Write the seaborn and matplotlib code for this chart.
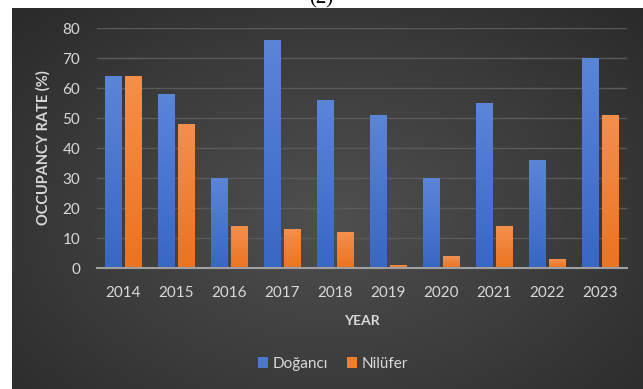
import numpy as np
import pandas as pd
import matplotlib
matplotlib.use("Agg")
import matplotlib.pyplot as plt
import seaborn as sns
from matplotlib.colors import LinearSegmentedColormap

years = ["2014", "2015", "2016", "2017", "2018", "2019", "2020", "2021", "2022", "2023"]
dogancı = [64, 58, 30, 76, 56, 51, 30, 55, 36, 70]
nilufer = [64, 48, 14, 13, 12, 1, 4, 14, 3, 51]
series_names = ["Doğancı", "Nilüfer"]

df = pd.DataFrame({
    "Year": years * 2,
    "Rate": dogancı + nilufer,
    "Site": [series_names[0]] * len(years) + [series_names[1]] * len(years),
})

sns.set_theme(style="dark")
plt.rcParams["font.family"] = ["Lato", "DejaVu Sans"]

W, H = 643, 389
fig = plt.figure(figsize=(W / 100, H / 100), dpi=100, facecolor="white")

# dark radial-gradient background panel
bg = fig.add_axes([12 / W, 0, (W - 12) / W, (H - 8) / H], zorder=-10)
gy, gx = np.mgrid[0:1:400j, 0:1:640j]
r = np.sqrt(((gx - 0.5) / 0.75) ** 2 + ((gy - 0.55) / 0.85) ** 2)
r = np.clip(r, 0, 1)
bg_cmap = LinearSegmentedColormap.from_list("bg", ["#4f4f4f", "#3c3c3c", "#272727"])
bg.imshow(r, cmap=bg_cmap, aspect="auto", extent=[0, 1, 0, 1], vmin=0, vmax=1)
bg.set_axis_off()

fig.text(321 / W, (H - 8) / H, "(2)", ha="center", va="bottom",
         family="Liberation Serif", fontsize=15, color="black")

ax = fig.add_axes([97 / W, (H - 268) / H, 530 / W, 240 / H])
ax.set_facecolor("none")

palette = {series_names[0]: "#4a77cf", series_names[1]: "#ef7f2e"}
sns.barplot(data=df, x="Year", y="Rate", hue="Site", palette=palette,
            width=0.79, gap=0.19, ax=ax, saturation=1, legend=True, zorder=3,
            linewidth=0, edgecolor="none")

# gradient fill on bars
grads = {
    0: LinearSegmentedColormap.from_list("b", ["#3867c4", "#5a86d8"]),
    1: LinearSegmentedColormap.from_list("o", ["#ea7420", "#f48f4c"]),
}
grad_img = np.linspace(0, 1, 100).reshape(-1, 1)
for i, cont in enumerate(ax.containers):
    for p in cont.patches:
        x0, y0 = p.get_x(), p.get_y()
        w, h = p.get_width(), p.get_height()
        im = ax.imshow(grad_img, cmap=grads[i], origin="lower", aspect="auto",
                       extent=[x0, x0 + w, y0, y0 + h], zorder=3.5)
        im.set_clip_path(p)

ax.set_xlim(-0.5, len(years) - 0.5)
ax.set_ylim(0, 80)
ax.set_yticks(range(0, 81, 10))
ax.grid(axis="y", color="#5a5a5a", linewidth=1.0, zorder=0)
ax.grid(axis="x", visible=False)
for s in ["top", "right", "left"]:
    ax.spines[s].set_visible(False)
ax.spines["bottom"].set_color("#a0a0a0")
ax.spines["bottom"].set_linewidth(1.5)
ax.spines["bottom"].set_zorder(5)

txt = "#d9d9d9"
ax.tick_params(axis="x", length=0, pad=13, labelsize=11, labelcolor=txt)
ax.tick_params(axis="y", length=0, pad=12, labelsize=11, labelcolor=txt)
ax.set_xlabel("YEAR", fontsize=10, fontweight="bold", color=txt, labelpad=11)
ax.set_ylabel("OCCUPANCY RATE (%)", fontsize=10.5, fontweight="bold", color=txt, labelpad=9)

leg = ax.get_legend()
handles = leg.legend_handles
leg.remove()
for hd in handles:
    hd.set_edgecolor("none")
    hd.set_linewidth(0)
fig.legend(handles, series_names, loc="center",
           bbox_to_anchor=(333 / W, (H - 364) / H), bbox_transform=fig.transFigure,
           ncol=2, frameon=False, fontsize=11, labelcolor=txt,
           handlelength=0.7, handleheight=0.7, handletextpad=0.3, columnspacing=1.2)

fig.savefig("out.png", dpi=100, facecolor="white")
